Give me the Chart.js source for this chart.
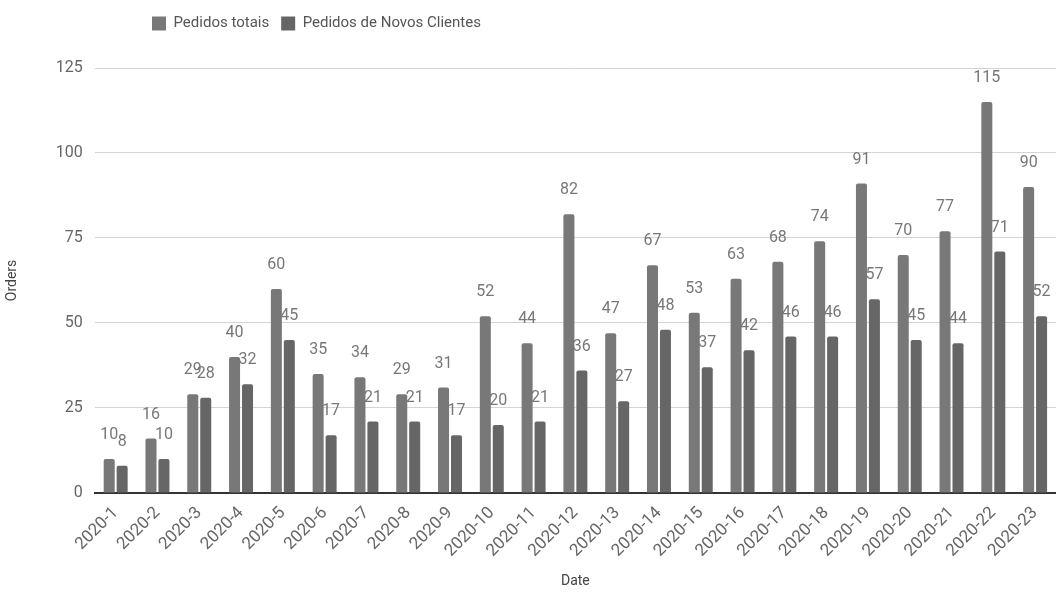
<!DOCTYPE html>
<html>
<head>
<meta charset="utf-8">
<script src="https://cdn.jsdelivr.net/npm/chart.js@4"></script>
<style>
  html, body { margin: 0; padding: 0; background: #fff; }
  #wrap { width: 1056px; height: 592px; }
</style>
</head>
<body>
<div id="wrap"><canvas id="ordersChart"></canvas></div>
<script>
const weeks = ["2020-1","2020-2","2020-3","2020-4","2020-5","2020-6","2020-7","2020-8","2020-9","2020-10","2020-11","2020-12","2020-13","2020-14","2020-15","2020-16","2020-17","2020-18","2020-19","2020-20","2020-21","2020-22","2020-23"];
const totalOrders = [10,16,29,40,60,35,34,29,31,52,44,82,47,67,53,63,68,74,91,70,77,115,90];
const newClientOrders = [8,10,28,32,45,17,21,21,17,20,21,36,27,48,37,42,46,46,57,45,44,71,52];
const yTicks = [0,25,50,75,100,125];

// value labels above each bar
const barLabels = {
  id: "barLabels",
  afterDatasetsDraw(chart) {
    const ctx = chart.ctx;
    ctx.save();
    ctx.font = "16px Roboto";
    ctx.fillStyle = "#777";
    ctx.textAlign = "center";
    ctx.textBaseline = "middle";
    chart.data.datasets.forEach((ds, i) => {
      chart.getDatasetMeta(i).data.forEach((bar, j) => {
        ctx.fillText(ds.data[j], bar.x, bar.y - 24);
      });
    });
    ctx.restore();
  },
};

// legend sits left of centre and leaves a gap above the plot
const legendTweak = {
  id: "legendTweak",
  beforeInit(chart) {
    const fit = chart.legend.fit;
    chart.legend.fit = function () {
      fit.call(this);
      this.height += 27;
    };
  },
  afterLayout(chart) {
    chart.legend.left = 140;
  },
};

new Chart(document.getElementById("ordersChart"), {
  type: "bar",
  data: {
    labels: weeks,
    datasets: [
      { label: "Pedidos totais", data: totalOrders, backgroundColor: "#787878", borderRadius: 2 },
      { label: "Pedidos de Novos Clientes", data: newClientOrders, backgroundColor: "#666666", borderRadius: 2 },
    ],
  },
  options: {
    responsive: true,
    maintainAspectRatio: false,
    animation: false,
    categoryPercentage: 0.62,
    barPercentage: 0.85,
    layout: { padding: { top: 4, right: 0, left: 0, bottom: 0 } },
    plugins: {
      legend: {
        position: "top",
        align: "start",
        labels: {
          font: { family: "Roboto", size: 15 },
          color: "#555",
          boxWidth: 14,
          boxHeight: 14,
          padding: 12,
        },
      },
      tooltip: { enabled: false },
    },
    scales: {
      x: {
        grid: { display: false },
        border: { color: "#333", width: 2 },
        ticks: {
          font: { family: "Roboto", size: 17 },
          color: "#666",
          minRotation: 45,
          maxRotation: 45,
          autoSkip: false,
          padding: 2,
        },
        title: {
          display: true, text: "Date",
          font: { family: "Roboto", size: 14 }, color: "#444",
          padding: { top: 10, bottom: 2 },
        },
      },
      y: {
        min: 0,
        max: 125,
        afterBuildTicks: (axis) => { axis.ticks = yTicks.map((v) => ({ value: v })); },
        grid: { color: "#d4d4d4", drawTicks: false },
        border: { display: false },
        ticks: {
          font: { family: "Roboto", size: 16 },
          color: "#666",
          padding: 12,
        },
        title: {
          display: true, text: "Orders",
          font: { family: "Roboto", size: 14 }, color: "#444",
          padding: { top: 4, bottom: 23 },
        },
      },
    },
  },
  plugins: [barLabels, legendTweak],
});
</script>
</body>
</html>
